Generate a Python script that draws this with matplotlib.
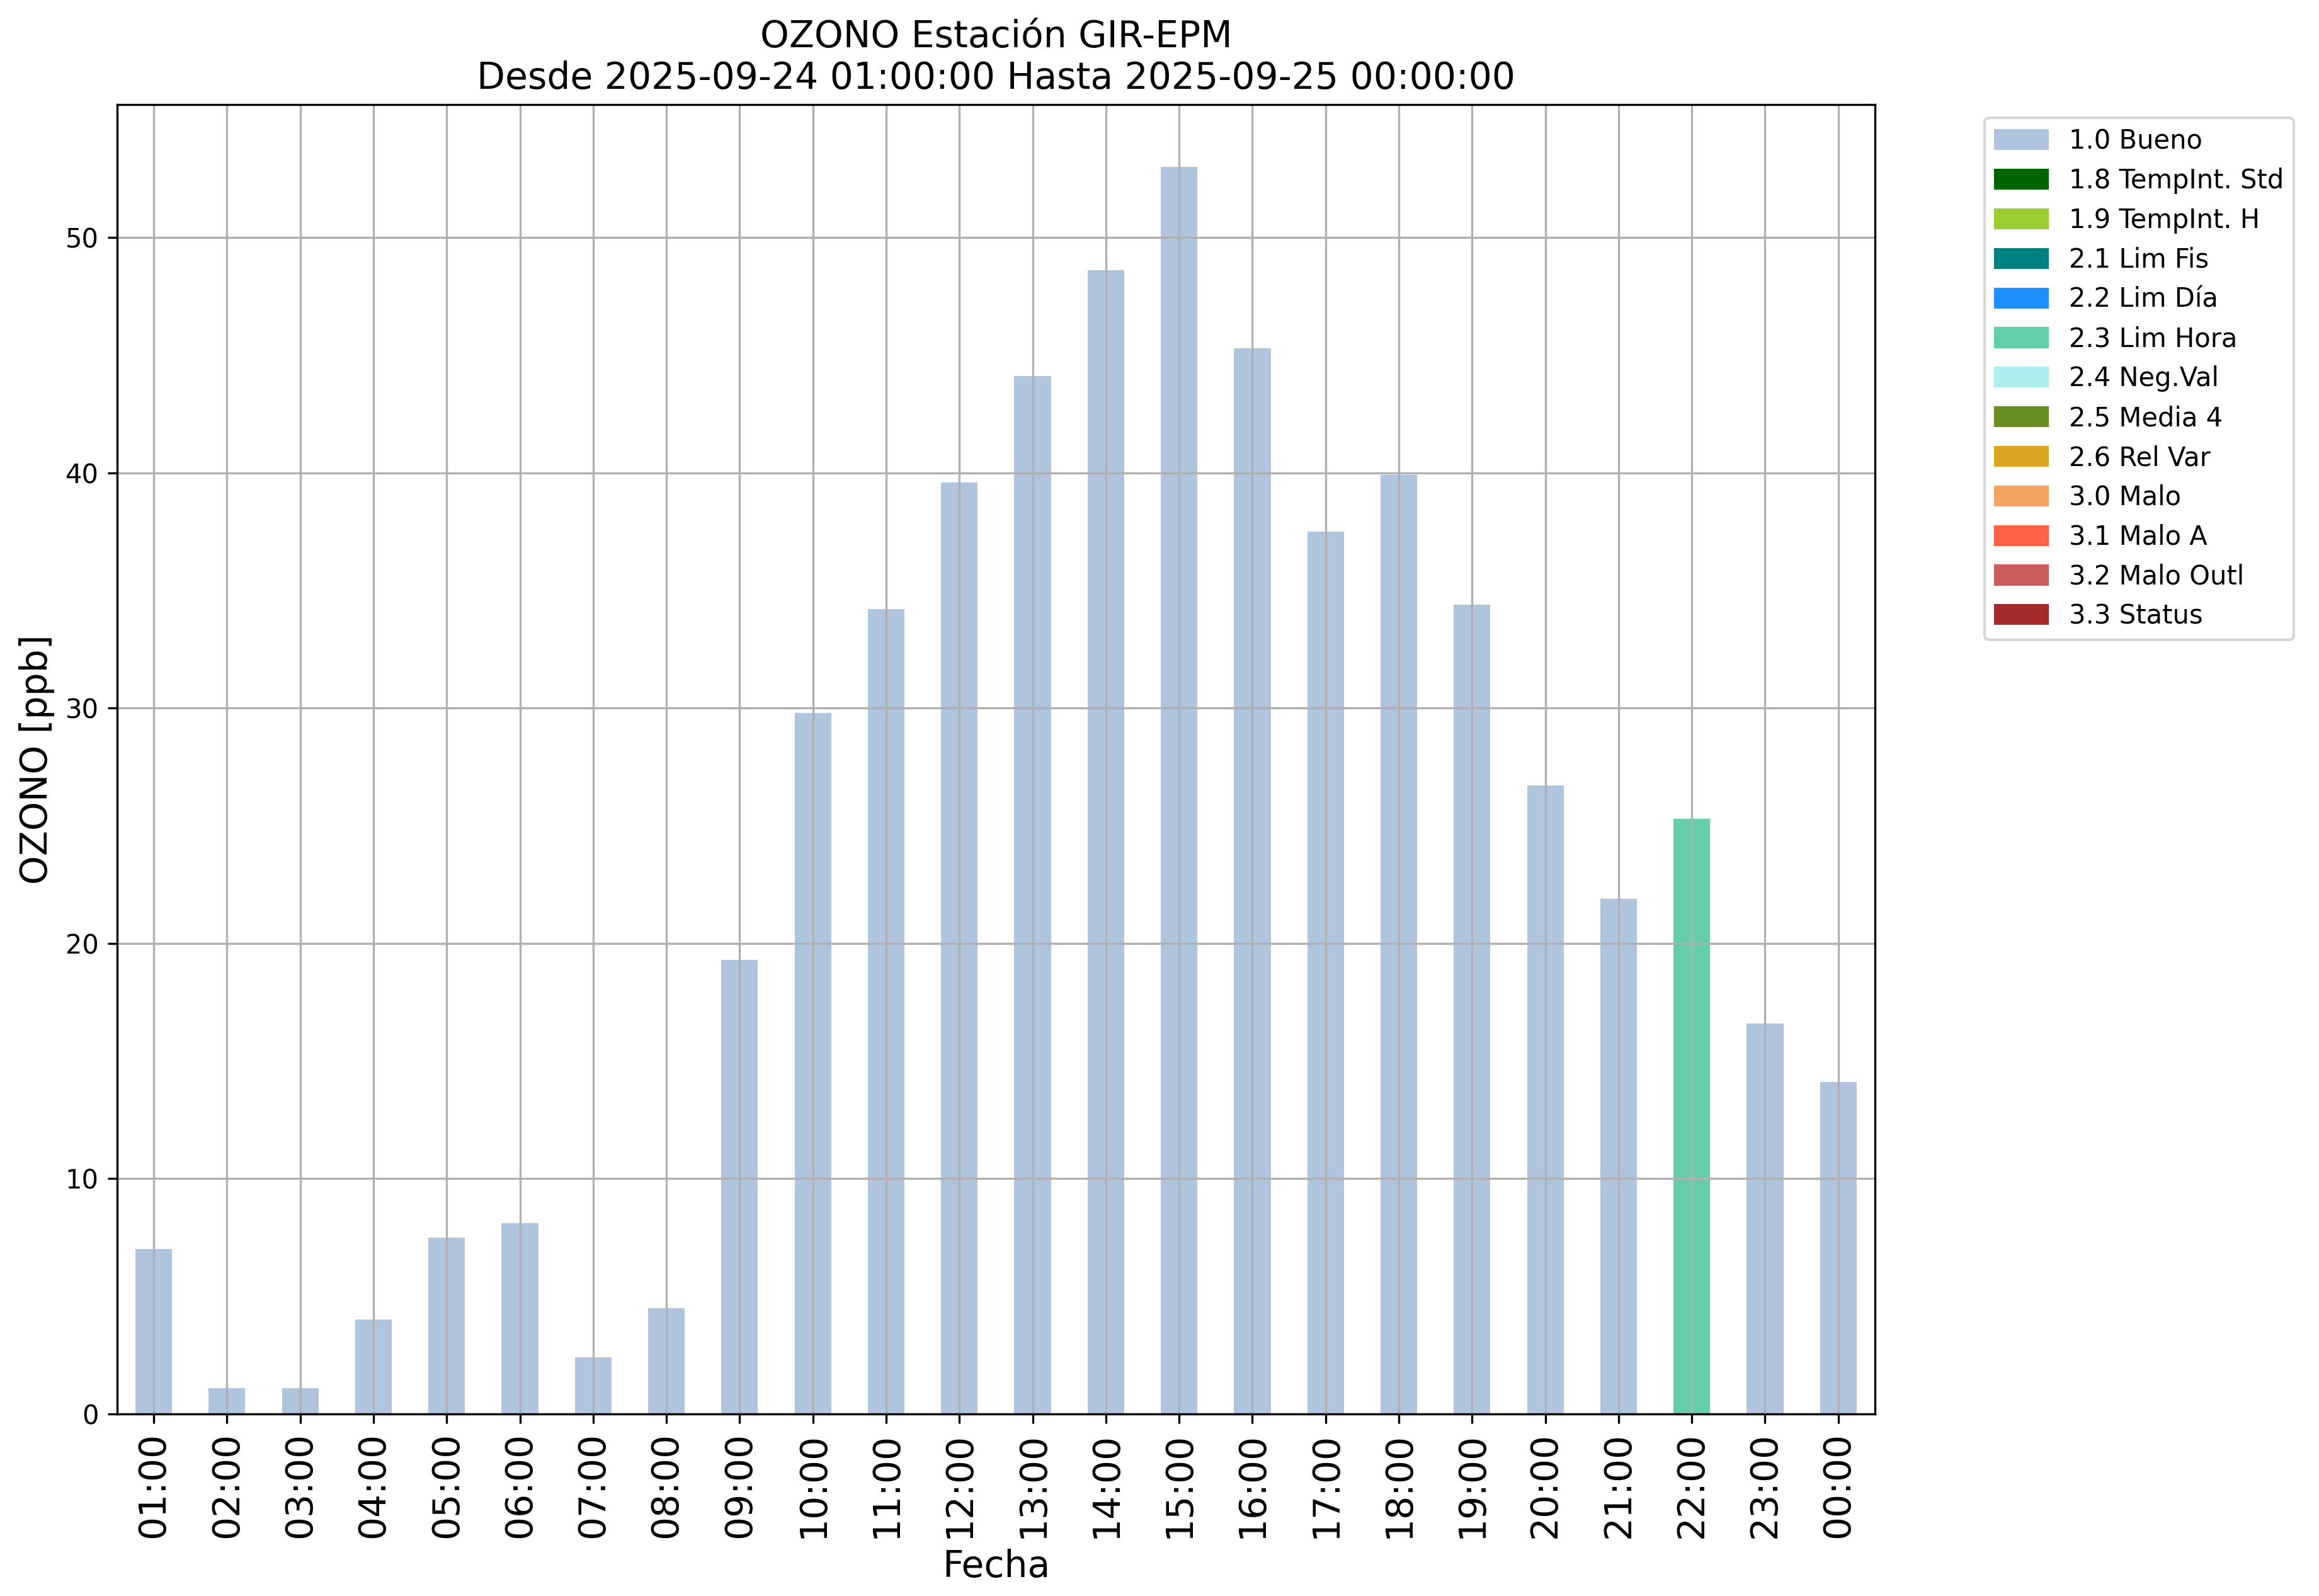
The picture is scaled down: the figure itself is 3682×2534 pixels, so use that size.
import matplotlib.pyplot as plt
from matplotlib.patches import Patch

# hourly ozone values [ppb]
horas = ['01:00', '02:00', '03:00', '04:00', '05:00', '06:00', '07:00', '08:00',
         '09:00', '10:00', '11:00', '12:00', '13:00', '14:00', '15:00', '16:00',
         '17:00', '18:00', '19:00', '20:00', '21:00', '22:00', '23:00', '00:00']
ozono = [7.0, 1.1, 1.1, 4.0, 7.5, 8.1, 2.4, 4.5,
         19.3, 29.8, 34.2, 39.6, 44.1, 48.6, 53.0, 45.3,
         37.5, 39.9, 34.4, 26.7, 21.9, 25.3, 16.6, 14.1]
# quality flag for each hour
flags = ['1.0 Bueno'] * 21 + ['2.3 Lim Hora'] + ['1.0 Bueno'] * 2

# flag legend
flag_labels = ['1.0 Bueno', '1.8 TempInt. Std', '1.9 TempInt. H', '2.1 Lim Fis',
               '2.2 Lim Día', '2.3 Lim Hora', '2.4 Neg.Val', '2.5 Media 4',
               '2.6 Rel Var', '3.0 Malo', '3.1 Malo A', '3.2 Malo Outl', '3.3 Status']
flag_colors = ['lightsteelblue', 'darkgreen', 'yellowgreen', 'teal',
               'dodgerblue', 'mediumaquamarine', 'paleturquoise', 'olivedrab',
               'goldenrod', 'sandybrown', 'tomato', 'indianred', 'brown']

color_map = dict(zip(flag_labels, flag_colors))

fig = plt.figure(figsize=(3682 / 300, 2534 / 300), dpi=300)
ax = fig.add_axes([0.0505, 0.1141, 0.758, 0.8204])

x = list(range(len(horas)))
ax.bar(x, ozono, width=0.5, color=[color_map[f] for f in flags])
ax.set_xlim(-0.5, len(horas) - 0.5)
ax.set_xticks(x)
ax.set_xticklabels(horas, rotation=90, fontsize=14)
ax.tick_params(axis='y', labelsize=10)
ax.grid(True)

ax.set_xlabel('Fecha', fontsize=14)
ax.set_ylabel('OZONO [ppb]', fontsize=14)
ax.set_title('OZONO Estación GIR-EPM\nDesde 2025-09-24 01:00:00 Hasta 2025-09-25 00:00:00',
             fontsize=14)

handles = [Patch(color=c, label=l) for l, c in zip(flag_labels, flag_colors)]
ax.legend(handles=handles, loc='upper left', bbox_to_anchor=(1.055, 1), fontsize=10)

fig.savefig('out.png', dpi=300)
